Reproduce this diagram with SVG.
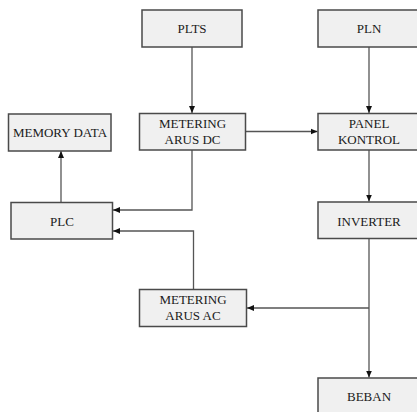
<svg xmlns="http://www.w3.org/2000/svg" width="417" height="412" viewBox="0 0 417 412">
<style>
.box{fill:#f0f0f0;stroke:#4a4a4a;stroke-width:1.5}
.t{font-family:"Liberation Serif","Times New Roman",serif;font-size:13px;fill:#1a1a1a;text-anchor:middle}
.c{fill:none;stroke:#555;stroke-width:1.3}
</style>
<defs>
<marker id="ah" markerWidth="8" markerHeight="8" refX="7" refY="4" orient="auto" markerUnits="userSpaceOnUse">
<path d="M0,1 L7,4 L0,7 Z" fill="#111"/>
</marker>
</defs>
<rect width="417" height="412" fill="#fff"/>
<g id="connectors">
<path class="c" d="M192,47 V113" marker-end="url(#ah)"/>
<path class="c" d="M369,47 V113" marker-end="url(#ah)"/>
<path class="c" d="M246,131.5 H317.5" marker-end="url(#ah)"/>
<path class="c" d="M369,150 V201.5" marker-end="url(#ah)"/>
<path class="c" d="M192,150 V210 H113" marker-end="url(#ah)"/>
<path class="c" d="M61,202 V151" marker-end="url(#ah)"/>
<path class="c" d="M193.5,289 V231 H113" marker-end="url(#ah)"/>
<path class="c" d="M369,238.5 V377.5" marker-end="url(#ah)"/>
<path class="c" d="M369,308 H247" marker-end="url(#ah)"/>
</g>
<g id="plts"><rect class="box" x="142" y="10" width="100" height="37"/><text class="t" x="192" y="33">PLTS</text></g>
<g id="pln"><rect class="box" x="318" y="10" width="102" height="37"/><text class="t" x="369" y="33">PLN</text></g>
<g id="memory"><rect class="box" x="8.5" y="114" width="102.5" height="37"/><text class="t" x="60" y="137">MEMORY DATA</text></g>
<g id="metering-dc"><rect class="box" x="139.5" y="113.5" width="106" height="36.5"/><text class="t" x="192.5" y="127.5">METERING</text><text class="t" x="192.5" y="143.5">ARUS DC</text></g>
<g id="panel"><rect class="box" x="318" y="113.5" width="102" height="36.5"/><text class="t" x="369" y="127.5">PANEL</text><text class="t" x="369" y="143.5">KONTROL</text></g>
<g id="plc"><rect class="box" x="11" y="202.5" width="101.5" height="36.5"/><text class="t" x="62" y="225.5">PLC</text></g>
<g id="inverter"><rect class="box" x="318" y="202" width="102" height="36.5"/><text class="t" x="369" y="226">INVERTER</text></g>
<g id="metering-ac"><rect class="box" x="139.5" y="289.5" width="107" height="37"/><text class="t" x="193" y="303.5">METERING</text><text class="t" x="193" y="319.5">ARUS AC</text></g>
<g id="beban"><rect class="box" x="318" y="378" width="102" height="40"/><text class="t" x="369" y="401">BEBAN</text></g>
</svg>
